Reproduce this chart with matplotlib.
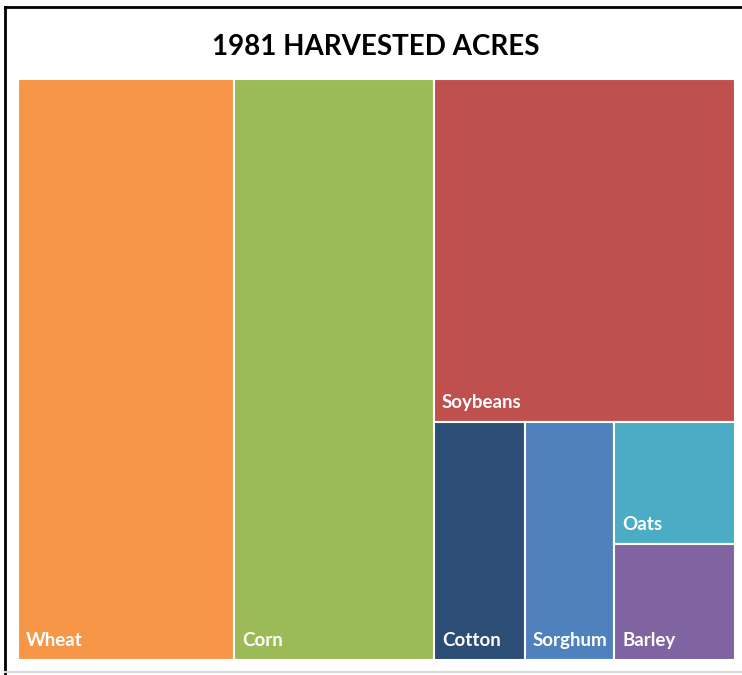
import matplotlib.pyplot as plt
from matplotlib.patches import Rectangle
from matplotlib.lines import Line2D

# 1981 harvested acres, millions
crops = ["Wheat", "Corn", "Soybeans", "Cotton", "Sorghum", "Oats", "Barley"]
acres = [80.6, 74.5, 66.2, 13.8, 13.7, 9.4, 9.0]
colors = ["#F79646", "#9BBB59", "#C0504D", "#2C4D75", "#4F81BD", "#4BACC6", "#8064A2"]

# tile nesting: first level split into columns, next into rows, and so on
layout = [0, 1, [2, [3, 4, [5, 6]]]]

plt.rcParams['font.family'] = ['Lato', 'DejaVu Sans']


def total(node):
    if isinstance(node, int):
        return acres[node]
    return sum(total(n) for n in node)


def place(ax, node, x, y, w, h, cols):
    if isinstance(node, int):
        ax.add_patch(Rectangle((x, y), w, h, facecolor=colors[node],
                               edgecolor='white', linewidth=1.5))
        ax.annotate(crops[node], xy=(x, y + h), xytext=(5.5, 10),
                    textcoords='offset points', ha='left', va='baseline',
                    color='white', fontsize=13.5, fontweight='bold')
        return
    s = total(node)
    for child in node:
        frac = total(child) / s
        if cols:
            place(ax, child, x, y, w * frac, h, not cols)
            x += w * frac
        else:
            place(ax, child, x, y, w, h * frac, not cols)
            y += h * frac


fig = plt.figure(figsize=(7.42, 6.75), dpi=100)
ax = fig.add_axes([18 / 742, 15 / 675, 717 / 742, 581 / 675])
ax.set_xlim(0, 1)
ax.set_ylim(1, 0)
ax.axis('off')

place(ax, layout, 0, 0, 1, 1, True)

fig.text(376 / 742, 1 - 47 / 675, "1981 HARVESTED ACRES", ha='center', va='center',
         fontsize=20, fontweight='bold', color='black')

# frame around the chart
fig.add_artist(Line2D([5 / 742, 5 / 742], [1 - 7 / 675, 0], color='black', linewidth=2))
fig.add_artist(Line2D([5 / 742, 1], [1 - 7 / 675, 1 - 7 / 675], color='black', linewidth=2))
fig.add_artist(Line2D([5 / 742, 1], [3 / 675, 3 / 675], color='#d9d9d9', linewidth=1.5))

fig.savefig("out.png", dpi=100)
